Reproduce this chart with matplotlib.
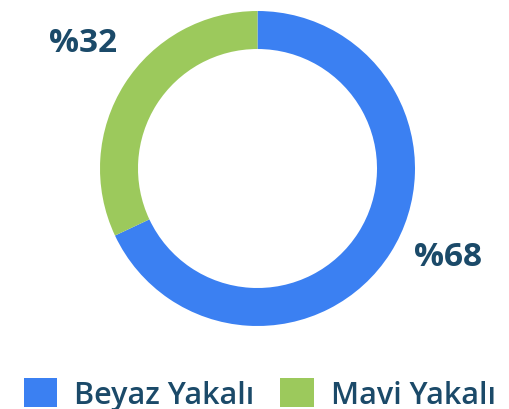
import matplotlib.pyplot as plt

# veri
kategoriler = ['Beyaz Yakalı', 'Mavi Yakalı']
oranlar = [68, 32]
renkler = ['#3b80f2', '#9cc95c']
etiketler = ['%68', '%32']
yaziRengi = '#1b4a69'

fig = plt.figure(figsize=(5.09, 4.10), dpi=100)
ax = fig.add_axes([0, 0, 1, 1])
ax.set_xlim(0, 509)
ax.set_ylim(0, 410)
ax.set_aspect('equal')

# halka grafik
dilimler, _ = ax.pie(oranlar, colors=renkler, startangle=90, counterclock=False,
                     center=(257.5, 240.5), radius=157.5,
                     wedgeprops=dict(width=38, edgecolor='none'), frame=True)
ax.axis('off')

# yuzde etiketleri
ax.text(448, 410 - 258, etiketler[0], fontsize=24, fontweight='bold', color=yaziRengi,
        family='Open Sans', ha='center', va='center')
ax.text(83, 410 - 43, etiketler[1], fontsize=24, fontweight='bold', color=yaziRengi,
        family='Open Sans', ha='center', va='center')

leg = fig.legend(dilimler, kategoriler, loc='lower center', bbox_to_anchor=(0.51, -0.04),
                 ncol=2, frameon=False, handlelength=1.1, handleheight=1.1,
                 handletextpad=0.55, columnspacing=0.85, borderpad=0.0,
                 prop={'family': 'Open Sans', 'size': 22, 'weight': 'semibold'})
for t in leg.get_texts():
    t.set_color(yaziRengi)

fig.savefig('out.png', dpi=100)
